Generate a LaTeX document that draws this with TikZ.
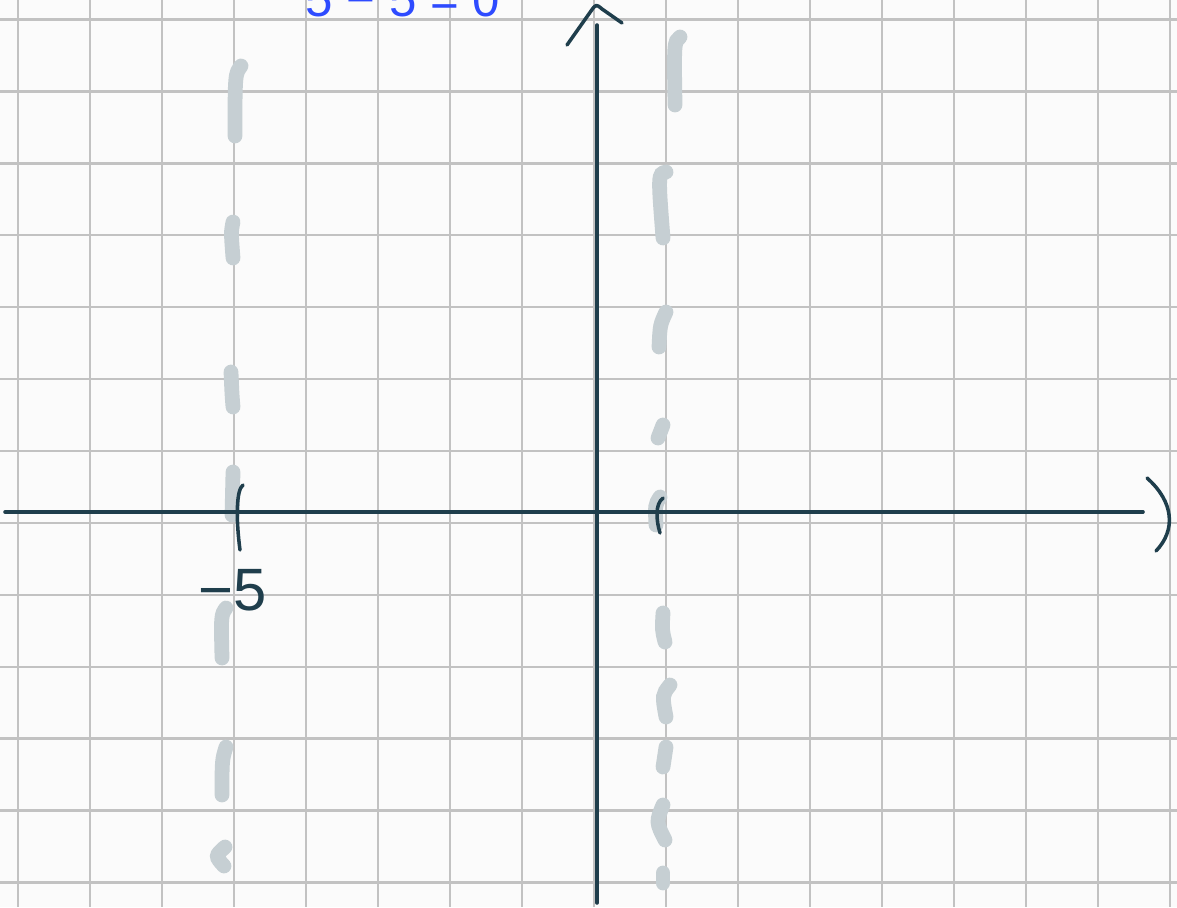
\documentclass[tikz,border=0pt]{standalone}
\usepackage{fontspec}
\setmainfont{Liberation Sans}
\definecolor{bgcol}{HTML}{FBFBFB}
\definecolor{gridcol}{HTML}{C2C2C2}
\definecolor{axiscol}{HTML}{1F3E4C}
\definecolor{dashcol}{HTML}{C6CFD3}
\definecolor{pencol}{HTML}{2E4BFF}
\tikzset{
  gridline/.style={line width=0.75pt, draw=gridcol},
  axisline/.style={line width=1pt, draw=axiscol, line cap=round, line join=round},
  dashmark/.style={line width=4.2pt, draw=dashcol, line cap=round},
  axislabel/.style={text=axiscol, inner sep=0pt, font=\fontsize{17}{17}\selectfont},
  penlabel/.style={text=pencol, inner sep=0pt, font=\fontsize{14}{14}\selectfont}
}
\begin{document}
\begin{tikzpicture}[x=0.01cm,y=-0.01cm]
\clip (0,0) rectangle (1177,907);
\fill[bgcol] (0,0) rectangle (1177,907);
% grid
\foreach \i in {0,...,16} \draw[gridline] (18+72*\i,0) -- (18+72*\i,907);
\foreach \j in {0,...,12} \draw[gridline] (0,19.3+71.95*\j) -- (1177,19.3+71.95*\j);
% left dashed asymptote
\draw[dashmark] (241,66) .. controls (235,74) .. (235,136);
\draw[dashmark] (233,222) .. controls (231,232) .. (233,258);
\draw[dashmark] (231,372) .. controls (232,395) .. (233,407);
\draw[dashmark] (233,472) -- (232,515);
\draw[dashmark] (226,608) .. controls (221,615) .. (222,658);
\draw[dashmark] (226,747) .. controls (222,760) .. (222,795);
\draw[dashmark] (225,847) .. controls (215,856) .. (224,866);
% right dashed asymptote
\draw[dashmark] (680,37) .. controls (674,42) .. (675,105);
\draw[dashmark] (666,172) .. controls (658,174) .. (663,238);
\draw[dashmark] (666,312) .. controls (660,325) .. (659,347);
\draw[dashmark] (663,425) -- (658,438);
\draw[dashmark] (660,497) .. controls (655,505) .. (656,525);
\draw[dashmark] (663,613) .. controls (662,630) .. (665,642);
\draw[dashmark] (670,685) .. controls (662,695) .. (666,717);
\draw[dashmark] (666,747) -- (663,767);
\draw[dashmark] (663,805) .. controls (656,822) .. (665,840);
\draw[dashmark] (663,873) -- (663,883);
% axes
\coordinate (xl) at (5,512);
\coordinate (xr) at (1143,512);
\coordinate (yt) at (597,25);
\coordinate (yb) at (597,903);
\draw[axisline] (xl) -- (xr);
\draw[axisline] (yt) -- (yb);
% arrow marks
\draw[axisline] (567,45) -- (591,11) .. controls (596,4) .. (602,9) -- (622,23);
\draw[axisline] (1147,478) .. controls (1174,502) and (1176,530) .. (1156,551);
% interval marks
\draw[axisline] (243,485) .. controls (236,490) and (236,520) .. (240,550);
\draw[axisline] (663,498) .. controls (655,504) and (656,520) .. (660,533);
% labels
\node[axislabel] (m5) at (233,590) {−5};
\node[penlabel, anchor=base west] (eq) at (305,17) {5 − 5 = 0};
\end{tikzpicture}
\end{document}
